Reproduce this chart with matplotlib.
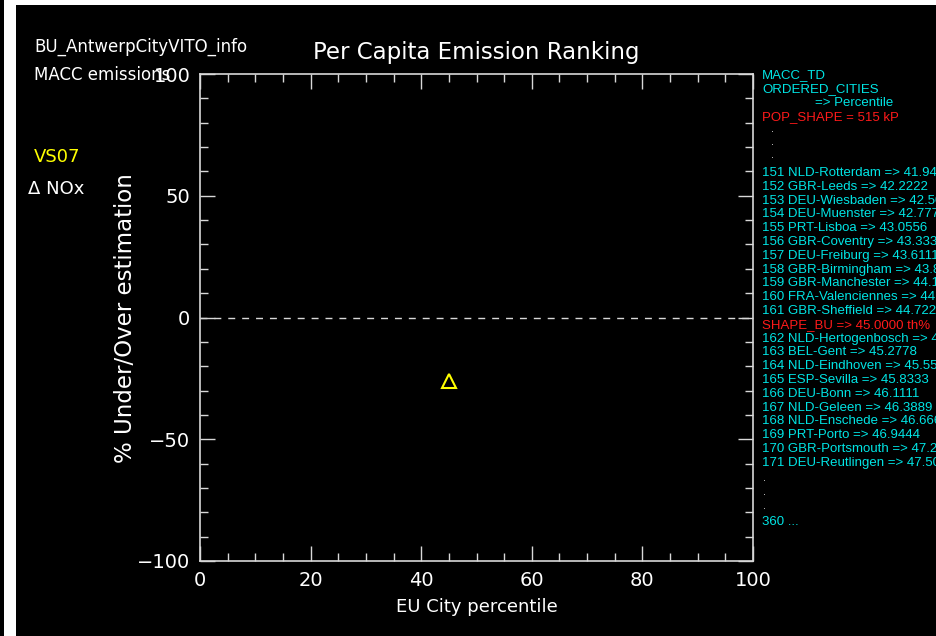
import matplotlib
matplotlib.use("Agg")
import matplotlib.pyplot as plt
from matplotlib.patches import Rectangle
from matplotlib.ticker import MultipleLocator

# ---- data ----
species = ["NOx"]
percentile_x = [45.0]
bias_y = [-26.0]
x_ticks = [0, 20, 40, 60, 80, 100]
y_ticks = [-100, -50, 0, 50, 100]

ranks = [151, 152, 153, 154, 155, 156, 157, 158, 159, 160, 161,
         162, 163, 164, 165, 166, 167, 168, 169, 170, 171]
cities = ["NLD-Rotterdam", "GBR-Leeds", "DEU-Wiesbaden", "DEU-Muenster", "PRT-Lisboa",
          "GBR-Coventry", "DEU-Freiburg", "GBR-Birmingham", "GBR-Manchester",
          "FRA-Valenciennes", "GBR-Sheffield",
          "NLD-Hertogenbosch", "BEL-Gent", "NLD-Eindhoven", "ESP-Sevilla", "DEU-Bonn",
          "NLD-Geleen", "NLD-Enschede", "PRT-Porto", "GBR-Portsmouth", "DEU-Reutlingen"]
city_pct = ["41.9444", "42.2222", "42.5000", "42.7778", "43.0556", "43.3333", "43.6111",
            "43.8889", "44.1667", "44.4444", "44.7222", "45.0000", "45.2778", "45.5556",
            "45.8333", "46.1111", "46.3889", "46.6667", "46.9444", "47.2222", "47.5000"]
shape_bu_pct = "45.0000"
pop_shape = "515 kP"
n_cities = 360

plt.rcParams["font.family"] = ["DejaVu Sans"]

W, H = 936, 636
fig = plt.figure(figsize=(W / 100, H / 100), dpi=100, facecolor="black")

def fx(px):
    return px / W

def fy(py):
    return 1 - py / H

# white frame strips
fig.patches.append(Rectangle((fx(4), 0), fx(12), 1, transform=fig.transFigure,
                             facecolor="white", edgecolor="none", zorder=0))
fig.patches.append(Rectangle((fx(16), fy(5)), 1, fy(0) - fy(5), transform=fig.transFigure,
                             facecolor="white", edgecolor="none", zorder=0))

ax = fig.add_axes([fx(200), fy(561), fx(753) - fx(200), fy(74) - fy(561)])
ax.set_facecolor("black")
ax.set_xlim(0, 100)
ax.set_ylim(-100, 100)
fg = "#d8d8d8"
for s in ax.spines.values():
    s.set_color(fg)
    s.set_linewidth(1.2)
ax.set_xticks(x_ticks)
ax.set_yticks(y_ticks)
ax.xaxis.set_minor_locator(MultipleLocator(5))
ax.yaxis.set_minor_locator(MultipleLocator(10))
ax.tick_params(which="both", direction="in", top=True, right=True, colors=fg,
               labelcolor="white", labelsize=14, width=1)
ax.tick_params(which="major", length=11, pad=7)
ax.tick_params(which="minor", length=6)

ax.axhline(0, color=fg, lw=1, ls=(0, (5, 5)))
ax.plot(percentile_x, bias_y, ls="none", marker="^", markersize=10,
        mfc="none", mec="yellow", mew=1.5)

ax.set_xlabel("EU City percentile", color="white", fontsize=13, labelpad=6)
ax.set_ylabel("% Under/Over estimation", color="white", fontsize=16.5,
              va="center", ha="center")
ax.yaxis.set_label_coords(fx(125), fy(318), transform=fig.transFigure)

fig.text(fx(476), fy(53), "Per Capita Emission Ranking", color="white",
         fontsize=16.5, ha="center", va="center")
fig.text(fx(34), fy(47), "BU_AntwerpCityVITO_info", color="white", fontsize=12,
         ha="left", va="center")
fig.text(fx(34), fy(75), "MACC emissions", color="white", fontsize=12,
         ha="left", va="center")
fig.text(fx(34), fy(157), "VS07", color="yellow", fontsize=13, ha="left", va="center")
fig.text(fx(28), fy(189), "\u0394 " + species[0], color="white", fontsize=13,
         ha="left", va="center")

cyan = "#00e5e5"
red = "#ff1a1a"
rfam = ["Liberation Sans", "DejaVu Sans"]
fs = 9.5
x0 = fx(762)

def line(py, s, c=cyan, x=x0):
    fig.text(x, fy(py), s, color=c, fontsize=fs, ha="left", va="center", family=rfam)

line(75, "MACC_TD")
line(89, "ORDERED_CITIES")
line(103, "=> Percentile", x=fx(815))
line(117, "POP_SHAPE = " + pop_shape, c=red)
for py in (129, 142, 155):
    fig.text(fx(773), fy(py), ".", color=fg, fontsize=7, ha="center", va="center")
step = 13.8
y = 173
for r, c, p in zip(ranks[:11], cities[:11], city_pct[:11]):
    line(y, f"{r} {c} => {p}")
    y += step
line(y, f"SHAPE_BU => {shape_bu_pct} th%", c=red)
y += step
for r, c, p in zip(ranks[11:], cities[11:], city_pct[11:]):
    line(y, f"{r} {c} => {p}")
    y += step
for py in (478, 492, 506):
    fig.text(fx(765), fy(py), ".", color=fg, fontsize=7, ha="center", va="center")
line(522, f"{n_cities} ...")

fig.savefig("out.png", dpi=100, facecolor="black")
